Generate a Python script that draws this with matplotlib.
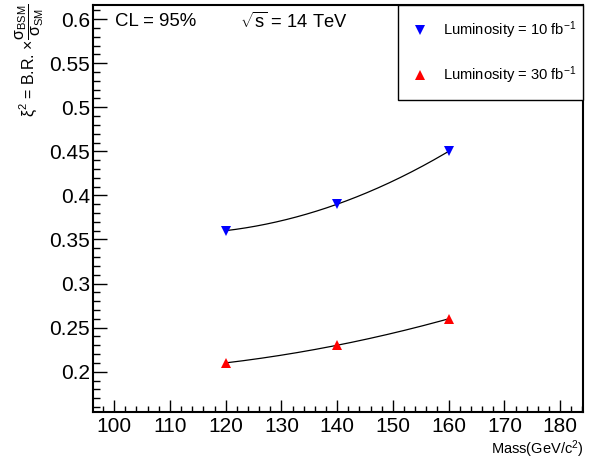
import numpy as np
import matplotlib
matplotlib.use("Agg")
import matplotlib.pyplot as plt
from matplotlib.ticker import MultipleLocator

plt.rcParams['font.family'] = ['Liberation Sans', 'DejaVu Sans']
plt.rcParams['mathtext.fontset'] = 'custom'
plt.rcParams['mathtext.rm'] = 'Liberation Sans'
plt.rcParams['mathtext.it'] = 'Liberation Sans:italic'
plt.rcParams['mathtext.bf'] = 'Liberation Sans:bold'
plt.rcParams['mathtext.sf'] = 'Liberation Sans'

mass = [120, 140, 160]
lumi10 = [0.36, 0.39, 0.45]
lumi30 = [0.21, 0.23, 0.26]
labels = [r'Luminosity = 10 fb$^{-1}$', r'Luminosity = 30 fb$^{-1}$']

fig = plt.figure(figsize=(5.93, 4.59), dpi=100)
ax = fig.add_axes([0.1568, 0.1030, 0.8263, 0.8861])

xs = np.linspace(mass[0], mass[-1], 200)
for vals in (lumi10, lumi30):
    c = np.polyfit(mass, vals, 2)
    ax.plot(xs, np.polyval(c, xs), color='black', lw=0.9, zorder=2)

ax.plot(mass, lumi10, linestyle='none', marker='v', color='blue', markersize=7,
        markeredgewidth=0, label=labels[0], zorder=3)
ax.plot(mass, lumi30, linestyle='none', marker='^', color='red', markersize=7,
        markeredgewidth=0, label=labels[1], zorder=3)

ax.set_xlim(96.2, 184.1)
ax.set_ylim(0.1546, 0.616)

ax.xaxis.set_major_locator(MultipleLocator(10))
ax.xaxis.set_minor_locator(MultipleLocator(2))
ax.yaxis.set_major_locator(MultipleLocator(0.05))
ax.yaxis.set_minor_locator(MultipleLocator(0.01))
ax.yaxis.set_major_formatter(matplotlib.ticker.FuncFormatter(lambda v, p: ('%.2f' % v).rstrip('0').rstrip('.')))

ax.tick_params(which='both', direction='in', top=False, right=False, labelsize=15, width=1.0)
ax.tick_params(axis='x', which='major', length=9, pad=4)
ax.tick_params(axis='x', which='minor', length=4.5)
ax.tick_params(axis='y', which='major', length=10, pad=2)
ax.tick_params(axis='y', which='minor', length=5)
for s in ax.spines.values():
    s.set_linewidth(1.5)

fig.text(584 / 593, 1 - 449 / 459, r'Mass(GeV/c$^{2}$)', ha='right', va='center', fontsize=10.5)
fig.text(30 / 593, 1 - 3 / 459,
         r'$\mathrm{\xi}^{2}$ = B.R. $\times\dfrac{\mathrm{\sigma}_{\mathrm{BSM}}}{\mathrm{\sigma}_{\mathrm{SM}}}$',
         rotation=90, ha='center', va='top', fontsize=11.5)

ax.text(115 / 593, 1 - 22 / 459, 'CL = 95%', transform=fig.transFigure, fontsize=13.4,
        ha='left', va='center')
ax.text(240 / 593, 1 - 22 / 459, r'$\sqrt{\mathrm{s}}$ = 14 TeV', transform=fig.transFigure,
        fontsize=13.2, ha='left', va='center')

x0 = (398 - 93) / 490
leg = ax.legend(loc='upper left', bbox_to_anchor=(x0, 1.0, 1 - x0, 0.0), mode='expand',
                borderaxespad=0, fancybox=False, edgecolor='black', framealpha=1,
                fontsize=10.6, handlelength=1.0, handletextpad=1.05, borderpad=1.0,
                labelspacing=1.55, numpoints=1)
leg.get_frame().set_linewidth(1.0)

fig.savefig('out.png', dpi=100)
